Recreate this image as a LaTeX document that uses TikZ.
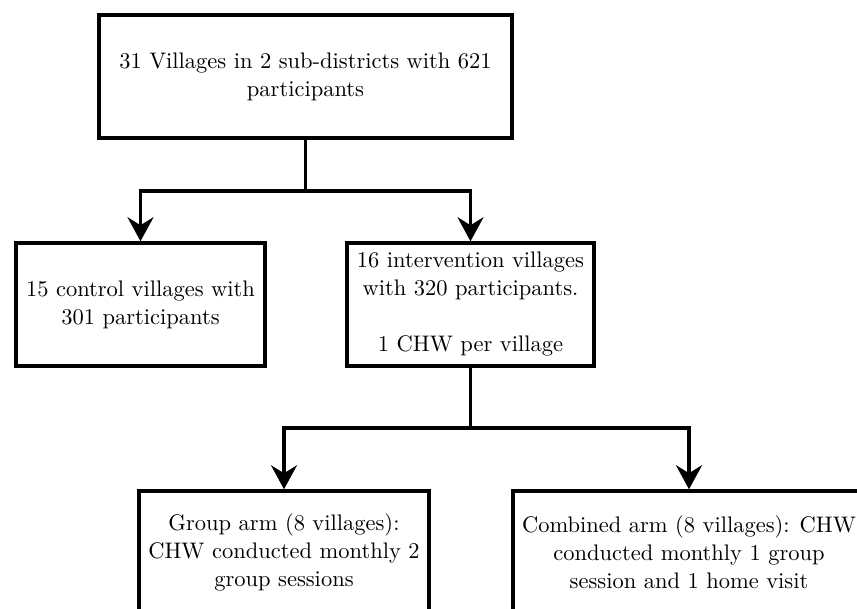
\documentclass[tikz,border=0pt]{standalone}
\usepackage{fontspec}
\setmainfont{lmroman10-regular.otf}
\usetikzlibrary{arrows.meta}

\tikzset{
    studybox/.style={draw, line width=3.5pt, minimum height=123pt, inner sep=4pt, align=center,
        font={\fontsize{22.5}{28}\selectfont}},
    flowarrow/.style={line width=3.5pt, -{Stealth[length=24pt, width=26pt, inset=8pt]}},
    flowline/.style={line width=3.5pt}
}

\begin{document}
\begin{tikzpicture}[x=1pt, y=1pt]
                \clip (0,0) rectangle (857,-609);

                % All villages
                \node[studybox, minimum width=413pt] (all) at (305.5,-76.5)
                    {31 Villages in 2 sub-districts with 621\\participants};

                % Control and intervention arms
                \node[studybox, minimum width=249pt] (control) at (140.5,-304.5)
                    {15 control villages with\\301 participants};
                \node[studybox, minimum width=247pt] (interv) at (470.5,-304.5)
                    {16 intervention villages\\with 320 participants.\\[28pt]1 CHW per village};

                % Group and combined arms
                \node[studybox, minimum width=290pt] (group) at (284,-552.5)
                    {Group arm (8 villages):\\CHW conducted monthly 2\\group sessions};
                \node[studybox, minimum width=352pt] (combined) at (689,-552.5)
                    {Combined arm (8 villages): CHW\\conducted monthly 1 group\\session and 1 home visit};

                % Connectors
                \coordinate (split1) at (305.5,-191);
                \draw[flowline] (all.south) -- (split1);
                \draw[flowarrow] (split1) -| (control.north);
                \draw[flowarrow] (split1) -| (interv.north);

                \coordinate (split2) at (470.5,-428);
                \draw[flowline] (interv.south) -- (split2);
                \draw[flowarrow] (split2) -| (group.north);
                \draw[flowarrow] (split2) -| (combined.north);
            \end{tikzpicture}
\end{document}
